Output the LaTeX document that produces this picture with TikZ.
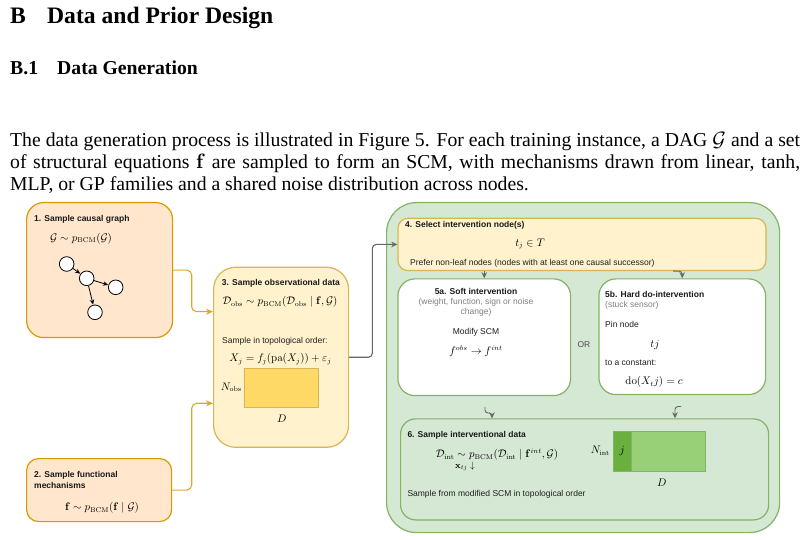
\documentclass[tikz,border=0pt]{standalone}
\usepackage{amsmath,amssymb}
\usepackage[no-math]{fontspec}
\setmainfont{Liberation Serif}
\newfontfamily\boxfont{Liberation Sans}
\usetikzlibrary{arrows.meta}
\definecolor{orfill}{HTML}{FFE6CC}
\definecolor{ordraw}{HTML}{D79B00}
\definecolor{orline}{HTML}{DFA62A}
\definecolor{yefill}{HTML}{FFF2CC}
\definecolor{yedraw}{HTML}{D6B656}
\definecolor{yedata}{HTML}{FFD966}
\definecolor{grfill}{HTML}{D5E8D4}
\definecolor{grdraw}{HTML}{82B366}
\definecolor{grdark}{HTML}{6AB03E}
\definecolor{grlight}{HTML}{97D077}
\definecolor{arrgrey}{HTML}{666666}
\definecolor{txtgrey}{HTML}{808080}
\begin{document}
\begin{tikzpicture}[x=1pt,y=-1pt,
  box/.style={draw, line width=1.2pt, rounded corners=#1, anchor=north west, inner sep=0pt},
  obox/.style={box=#1, fill=orfill, draw=ordraw},
  ybox/.style={box=#1, fill=yefill, draw=yedraw},
  gbox/.style={box=#1, fill=grfill, draw=grdraw},
  wbox/.style={box=#1, fill=white, draw=grdraw},
  datarect/.style={draw, line width=0.9pt, anchor=north west, inner sep=0pt},
  lbl/.style={font=\boxfont\fontsize{8.5}{10}\selectfont, inner sep=0pt, text=black!88},
  lblb/.style={font=\boxfont\bfseries\fontsize{8.5}{10}\selectfont, inner sep=0pt, text=black!90},
  lblg/.style={font=\boxfont\fontsize{8.5}{10}\selectfont, inner sep=0pt, text=txtgrey},
  mth/.style={inner sep=0pt, font=\fontsize{10.5}{12}\selectfont},
  gnode/.style={circle, draw=black, fill=white, line width=0.8pt, minimum size=14.6, inner sep=0pt},
  garrow/.style={-{Stealth[length=5pt,width=4.5pt]}, line width=0.8pt, black, shorten >=0.3pt},
  oconn/.style={-{Stealth[length=7pt,width=6pt]}, line width=1.1pt, orline, rounded corners=5pt},
  gconn/.style={-{Stealth[length=6pt,width=5.5pt]}, line width=1.1pt, arrgrey, rounded corners=4pt},
  hdr/.style={inner sep=0pt, anchor=base west}
]
\useasboundingbox (0,0) rectangle (807,540);

% ---------- header text ----------
\node[hdr, font=\fontsize{23.6}{28}\selectfont\bfseries] (secB) at (10,24) {B};
\node[hdr, font=\fontsize{23.6}{28}\selectfont\bfseries] (secT) at (47,24) {Data and Prior Design};
\node[hdr, font=\fontsize{19.7}{24}\selectfont\bfseries] (subB) at (10,75) {B.1};
\node[hdr, font=\fontsize{19.7}{24}\selectfont\bfseries] (subT) at (57,75) {Data Generation};
\node[hdr, font=\fontsize{19.7}{22}\selectfont] (l1) at (10,147) {\makebox[790pt][s]{The data generation process is illustrated in Figure 5. For each training instance, a DAG $\mathcal{G}$ and a set}};
\node[hdr, font=\fontsize{19.7}{22}\selectfont] (l2) at (10,169) {\makebox[790pt][s]{of structural equations $\mathbf{f}$ are sampled to form an SCM, with mechanisms drawn from linear, tanh,}};
\node[hdr, font=\fontsize{19.7}{22}\selectfont] (l3) at (10,191) {MLP, or GP families and a shared noise distribution across nodes.};

% ---------- boxes ----------
\node[gbox=30, minimum width=393, minimum height=330] (outer) at (386,202) {};
\node[obox=17, minimum width=146, minimum height=135] (b1) at (26,202) {};
\node[obox=12, minimum width=145, minimum height=63] (b2) at (26,458) {};
\node[ybox=22, minimum width=135, minimum height=180] (b3) at (213,266.7) {};
\node[ybox=10, minimum width=368, minimum height=52.3] (b4) at (397.3,217.7) {};
\node[wbox=17, minimum width=172.7, minimum height=116.7] (b5a) at (397.3,278.3) {};
\node[wbox=17, minimum width=166.7, minimum height=115.7] (b5b) at (598.3,278.3) {};
\node[gbox=15, minimum width=368, minimum height=101] (b6) at (400,418.3) {};

% ---------- box 1 ----------
\node[lblb, anchor=mid west] (t1) at (34,219) {1. Sample causal graph};
\node[mth] (m1) at (81,238.3) {$\mathcal{G}\sim p_{\mathrm{BCM}}(\mathcal{G})$};
\node[gnode] (g1) at (66.7,264) {};
\node[gnode] (g2) at (86.7,278.3) {};
\node[gnode] (g3) at (115.7,287.3) {};
\node[gnode] (g4) at (95,312.3) {};
\draw[garrow] (g1) -- (g2);
\draw[garrow] (g2) -- (g3);
\draw[garrow] (g2) -- (g4);

% ---------- box 2 ----------
\node[lblb, anchor=mid west] (t2a) at (34,475) {2. Sample functional};
\node[lblb, anchor=mid west] (t2b) at (34,486) {mechanisms};
\node[mth] (m2) at (102,508) {$\mathbf{f}\sim p_{\mathrm{BCM}}(\mathbf{f}\mid\mathcal{G})$};

% ---------- box 3 ----------
\node[lblb, anchor=mid west] (t3) at (221.7,283) {3. Sample observational data};
\node[mth] (m3) at (280,302) {$\mathcal{D}_{\mathrm{obs}}\sim p_{\mathrm{BCM}}(\mathcal{D}_{\mathrm{obs}}\mid\mathbf{f},\mathcal{G})$};
\node[lbl, anchor=mid west] (t3b) at (222,341) {Sample in topological order:};
\node[mth] (m3b) at (280.5,359) {$X_j = f_j(\mathrm{pa}(X_j)) + \varepsilon_j$};
\node[datarect, fill=yedata, draw=yedraw, minimum width=74, minimum height=38.4] (dobs) at (244.3,368.3) {};
\node[mth, anchor=mid east] (nobs) at (242,388) {$N_{\mathrm{obs}}$};
\node[mth] (dlab3) at (281.7,419) {$D$};

% ---------- box 4 ----------
\node[lblb, anchor=mid west] (t4) at (405,225) {4. Select intervention node(s)};
\node[mth] (m4) at (530,244) {$t_j\in T$};
\node[lbl, anchor=mid west] (t4b) at (410,263.3) {Prefer non-leaf nodes (nodes with at least one causal successor)};

% ---------- box 5a ----------
\node[lblb] (t5a) at (476,291) {5a. Soft intervention};
\node[lblg] (t5a1) at (476,302.7) {(weight, function, sign or noise};
\node[lblg] (t5a2) at (476,312.7) {change)};
\node[lbl] (t5a3) at (476,332.3) {Modify SCM};
\node[mth] (m5a) at (476,351) {$f^{obs}\rightarrow f^{int}$};

% ---------- OR ----------
\node[lbl, text=black!70] (or) at (584,345) {OR};

% ---------- box 5b ----------
\node[lblb, anchor=mid west] (t5b) at (605,295) {5b. Hard do-intervention};
\node[lblg, anchor=mid west] (t5b1) at (605,305) {(stuck sensor)};
\node[lbl, anchor=mid west] (t5b2) at (605,325) {Pin node};
\node[mth] (m5b) at (655,345) {$tj$};
\node[lbl, anchor=mid west] (t5b3) at (605,363.3) {to a constant:};
\node[mth] (m5b2) at (654,381.7) {$\mathrm{do}(X_tj) = c$};

% ---------- box 6 ----------
\node[lblb, anchor=mid west] (t6) at (407.3,435.7) {6. Sample interventional data};
\node[mth] (m6) at (497,455) {$\mathcal{D}_{\mathrm{int}}\sim p_{\mathrm{BCM}}(\mathcal{D}_{\mathrm{int}}\mid\mathbf{f}^{int},\mathcal{G})$};
\node[mth, font=\fontsize{9}{10}\selectfont] (m6b) at (465,466) {$\mathbf{x}_{tj}\downarrow$};
\node[lbl, anchor=mid west] (t6b) at (407.3,494.3) {Sample from modified SCM in topological order};
\node[datarect, fill=grlight, draw=grdraw, minimum width=92.3, minimum height=40] (dint) at (612.7,431) {};
\node[datarect, fill=grdark, draw=grdraw, minimum width=18, minimum height=40] (dintj) at (612.7,431) {};
\node[mth] (jlab) at (dintj.center) {$j$};
\node[mth, anchor=mid east] (nint) at (610,451.7) {$N_{\mathrm{int}}$};
\node[mth] (dlab6) at (661.7,482.3) {$D$};

% ---------- connectors ----------
\coordinate (j1) at (191.7,0);
\coordinate (in1) at (0,311.7);
\coordinate (in2) at (0,403.3);
\coordinate (j2) at (372.3,0);
\draw[oconn] (b1.east) -| (j1 |- in1) -- (b3.west |- in1);
\draw[oconn] (b2.east) -| (j1 |- in2) -- (b3.west |- in2);
\draw[gconn] (b3.east) -| (j2 |- b4.west) -- (b4.west);

\coordinate (k1) at (673,0);
\draw[gconn, line width=0.9pt] (b4.south -| b5a.north) -- (b5a.north);
\draw[gconn, line width=0.9pt, rounded corners=3pt] (b4.south -| k1) -- (b4.south -| b5b.north) -- (b5b.north);

\coordinate (s6a) at (485,407);
\coordinate (t6a) at (492,413);
\draw[gconn, line width=0.9pt, rounded corners=3pt] (s6a) |- (t6a) -- (t6a |- b6.north);
\coordinate (s6b) at (681,406.5);
\coordinate (t6b) at (675,0);
\draw[gconn, line width=0.9pt, rounded corners=3pt] (s6b) -| (t6b |- b6.north);
\end{tikzpicture}
\end{document}
